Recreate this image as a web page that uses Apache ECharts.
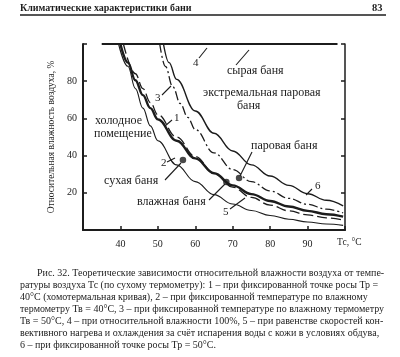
<!DOCTYPE html>
<html><head><meta charset="utf-8">
<script src="https://cdn.jsdelivr.net/npm/echarts@6/dist/echarts.min.js"></script>
<style>html,body{margin:0;padding:0;background:#fff}#c{width:400px;height:357px}</style>
</head><body><div id="c"></div>
<script>
// ---- data ----
const xTicks = [40, 50, 60, 70, 80, 90];
const yTicks = [20, 40, 60, 80];
// curve 1: fixed dew point Tp = 40 °C
const curve1 = [[40,100],[42,90],[44,80.5],[46,72.5],[48,65.5],[50,59.5],[55,48],[60,38.5],[65,30.5],[70,24],[75,19.3],[80,15.6],[85,12.6],[90,10.3],[95,8.5],[99.5,7.2]];
// curve 2: fixed wet-bulb Tв = 40 °C
const curve2 = [[39.5,100],[42,88],[44,76],[46,65.5],[48,56],[50,48],[55,35],[60,26],[65,19],[70,14],[75,10.5],[80,7.8],[85,5.8],[90,4.3],[95,3.2],[99.5,2.5]];
// curve 3: fixed wet-bulb Tв = 50 °C
const curve3 = [[50.5,100],[52,88],[54,77],[56,68],[58,60.5],[60,54],[65,41.5],[70,32.5],[75,26],[80,21],[85,17],[90,13.8],[95,11.2],[99.5,9.2]];
// curve 4: relative humidity 100 %
const curve4 = [[35,100],[98,100]];
// curve 5: equal convective heating / evaporative cooling
const curve5 = [[40.8,100],[44,84],[46,76],[48,68.5],[50,62],[55,50],[60,39.5],[65,30.5],[70,23],[75,17.5],[80,13.4],[85,10.3],[90,8.1],[95,6.5],[99.5,5.3]];
// curve 6: fixed dew point Tp = 50 °C
const curve6 = [[51.5,100],[53,90],[55,81],[60,64],[65,52],[70,42.5],[75,35],[80,29],[85,24],[90,19.5],[95,16],[99.5,13]];
// bath points
const bathNames = ['сухая баня', 'влажная баня', 'паровая баня'];
const bathPoints = [[56.7,37.6],[68.3,25.8],[71.7,28.0]];

const ink = '#1c1c1c';
const serif = '"Liberation Serif","DejaVu Serif",serif';
const chart = echarts.init(document.getElementById('c'), null, {renderer:'canvas'});

function line(name, data, width, type) {
  return {name, type:'line', data, showSymbol:false, smooth:0.4, smoothMonotone:'x',
    lineStyle:{color:ink, width, type}, silent:true, z:3};
}
const txt = (x, y, s, size, weight) => ({type:'text', x, y,
  style:{text:s, fill:ink, font:(weight||'normal') + ' ' + (size||12) + 'px ' + serif, textVerticalAlign:'middle'}});
const arr = (x1,y1,x2,y2) => ({type:'line', shape:{x1,y1,x2,y2}, style:{stroke:ink, lineWidth:1.1}});

chart.setOption({
  backgroundColor:'#ffffff',
  animation:false,
  grid:{left:83, right:55, top:44, bottom:127, containLabel:false},
  xAxis:[{
    type:'value', min:30, max:100, interval:10,
    axisLine:{lineStyle:{color:ink, width:2}},
    axisTick:{inside:true, length:4, lineStyle:{color:ink, width:1.5}},
    axisLabel:{color:ink, fontFamily:serif, fontSize:10, margin:9,
      formatter:v => xTicks.includes(v) ? String(v) : ''},
    splitLine:{show:false}
  },{
    type:'value', min:30, max:100, position:'top',
    axisLine:{show:true, lineStyle:{color:ink, width:1.5}},
    axisTick:{show:false}, axisLabel:{show:false}, splitLine:{show:false}
  }],
  yAxis:[{
    type:'value', min:0, max:100, interval:20,
    name:'Относительная влажность воздуха, %', nameLocation:'middle', nameRotate:90, nameGap:21,
    nameTextStyle:{color:ink, fontFamily:serif, fontSize:9.5},
    axisLine:{show:true, lineStyle:{color:ink, width:2}},
    axisTick:{inside:true, length:4, lineStyle:{color:ink, width:1.5}},
    axisLabel:{color:ink, fontFamily:serif, fontSize:10, margin:6,
      formatter:v => yTicks.includes(v) ? String(v) : ''},
    splitLine:{show:false}
  },{
    type:'value', min:0, max:100, interval:20, position:'right',
    axisLine:{show:true, lineStyle:{color:ink, width:1.5}},
    axisTick:{inside:true, length:4, lineStyle:{color:ink, width:1.5}},
    axisLabel:{show:false}, splitLine:{show:false}
  }],
  series:[
    line('1', curve1, 2.4, 'solid'),
    line('2', curve2, 1.1, 'solid'),
    line('3', curve3, 1.3, [9,3,2,3]),
    Object.assign(line('4', curve4, 2, 'solid'), {smooth:false}),
    line('5', curve5, 1.3, [10,4]),
    line('6', curve6, 1.4, 'solid'),
    {type:'scatter', data:bathPoints, symbolSize:6.5, itemStyle:{color:ink}, silent:true, z:4}
  ],
  graphic:[
    // header
    txt(20, 8, 'Климатические характеристики бани', 10, 'bold'),
    txt(372, 8, '83', 10.5, 'bold'),
    {type:'line', shape:{x1:20, y1:15, x2:386, y2:15}, style:{stroke:ink, lineWidth:1.5}},
    // axis name
    txt(337, 242, 'Тс, °С', 9.5),
    // annotations
    txt(95, 121, 'холодное'), txt(94, 134, 'помещение'),
    txt(104, 181, bathNames[0]), txt(137, 202, bathNames[1]), txt(251, 146, bathNames[2]),
    txt(227, 71, 'сырая баня'), txt(203, 93, 'экстремальная паровая'), txt(237, 106, 'баня'),
    txt(174, 118, '1', 11), txt(161, 163, '2', 11), txt(155, 98, '3', 11), txt(193, 63, '4', 11),
    txt(223, 212, '5', 11), txt(315, 186, '6', 11),
    arr(199,58,207,48), arr(236,65,249,50), arr(162,95,171,86), arr(172,120,165,126),
    arr(167,162,175,158), arr(165,180,181,163), arr(209,200,225,184), arr(252,152,240,176),
    arr(230,209,245,198), arr(312,189,306,195),
    // caption
    txt(37, 273, 'Рис. 32. Теоретические зависимости относительной влажности воздуха от темпе-', 10),
    txt(20, 285, 'ратуры воздуха Тс (по сухому термометру): 1 – при фиксированной точке росы Тр =', 10),
    txt(20, 297, '40°С (хомотермальная кривая), 2 – при фиксированной температуре по влажному', 10),
    txt(20, 309, 'термометру Тв = 40°С, 3 – при фиксированной температуре по влажному термометру', 10),
    txt(20, 321, 'Тв = 50°С, 4 – при относительной влажности 100%, 5 – при равенстве скоростей кон-', 10),
    txt(20, 333, 'вективного нагрева и охлаждения за счёт испарения воды с кожи в условиях обдува,', 10),
    txt(20, 345, '6 – при фиксированной точке росы Тр = 50°С.', 10)
  ]
});
</script></body></html>
